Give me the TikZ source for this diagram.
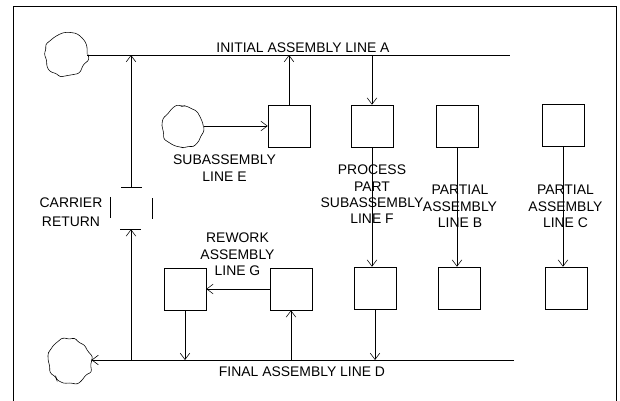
\documentclass[tikz,border=0pt]{standalone}
\usepackage{fontspec}
\setmainfont{Liberation Sans}
\usetikzlibrary{arrows.meta,decorations.pathmorphing}
\tikzset{
  stn/.style={rectangle,draw,thin,minimum size=1.05cm,inner sep=0pt},
  % carrier return: only the middle of each side is drawn
  halfstn/.style={stn,dash pattern=on 0pt off 7.44pt on 14.88pt off 7.44pt},
  blob/.style={circle,draw,thin,minimum size=1.06cm,inner sep=0pt,
    decorate,decoration={random steps,segment length=4pt,amplitude=1.6pt},
    rounded corners=1.6pt},
  lbl/.style={font=\fontsize{9.9}{11.6}\selectfont,align=center,inner sep=1pt},
  arr/.style={-{Straight Barb[length=1.6mm,width=2.4mm]},thin},
  ln/.style={thin}
}
\begin{document}
\begin{tikzpicture}[x=0.025cm,y=-0.025cm]
  \pgfmathsetseed{11}
  \useasboundingbox (0,0) rectangle (620,401);
  % frame
  \draw[semithick] (13,401) -- (13,6) -- (616,6) -- (616,401);
  % sources and sink
  \node[blob] (cA) at (66,54) {};
  \node[blob,minimum size=1.02cm] (cE) at (183,127) {};
  \node[blob] (cD) at (70,361) {};
  \coordinate (aEnd) at (510,55);
  \coordinate (dEnd) at (514,360);
  \draw[ln] (cA.east |- aEnd) -- (aEnd);
  \draw[arr] (dEnd) -- (cD.east |- dEnd);
  \node[lbl] (tA) at (303,47.5) {INITIAL ASSEMBLY LINE A};
  \node[lbl] (tD) at (302,371.5) {FINAL ASSEMBLY LINE D};
  % stations
  \node[stn] (boxE) at (289,126) {};
  \node[stn] (boxFt) at (372,126) {};
  \node[stn] (boxBt) at (457,126) {};
  \node[stn] (boxCt) at (563,125) {};
  \node[stn] (boxFb) at (375,288) {};
  \node[stn] (boxBb) at (459,288) {};
  \node[stn] (boxCb) at (566,288) {};
  \node[stn] (boxGl) at (185,289) {};
  \node[stn] (boxGr) at (291,289) {};
  \node[halfstn] (carrier) at (131,208) {};
  % flows
  \draw[arr] (carrier.north) -- (carrier.north |- aEnd);
  \draw[arr] (carrier.south |- dEnd) -- (carrier.south);
  \draw[arr] (cE.east |- boxE.west) -- (boxE.west);
  \draw[arr] (boxE.north) -- (boxE.north |- aEnd);
  \draw[arr] (boxFt.north |- aEnd) -- (boxFt.north);
  \draw[arr] (boxFt.south) -- (boxFt.south |- boxFb.north);
  \draw[arr] (boxBt.south) -- (boxBt.south |- boxBb.north);
  \draw[arr] (boxCt.south) -- (boxCt.south |- boxCb.north);
  \draw[arr] (boxFb.south) -- (boxFb.south |- dEnd);
  \draw[arr] (boxGr.west) -- (boxGl.east);
  \draw[arr] (boxGl.south) -- (boxGl.south |- dEnd);
  \draw[arr] (boxGr.south |- dEnd) -- (boxGr.south);
  % labels
  \node[lbl] (tE) at (224.5,168) {SUBASSEMBLY\\LINE E};
  \node[lbl] (tC) at (71,212) {CARRIER\\[2pt]RETURN};
  \node[lbl] (tG) at (237.5,254.5) {REWORK\\ASSEMBLY\\LINE G};
  \node[lbl] (tF) at (372,194.5) {PROCESS\\PART\\SUBASSEMBLY\\LINE F};
  \node[lbl] (tB) at (460,206.5) {PARTIAL\\ASSEMBLY\\LINE B};
  \node[lbl] (tCc) at (565.5,206.5) {PARTIAL\\ASSEMBLY\\LINE C};
\end{tikzpicture}
\end{document}
